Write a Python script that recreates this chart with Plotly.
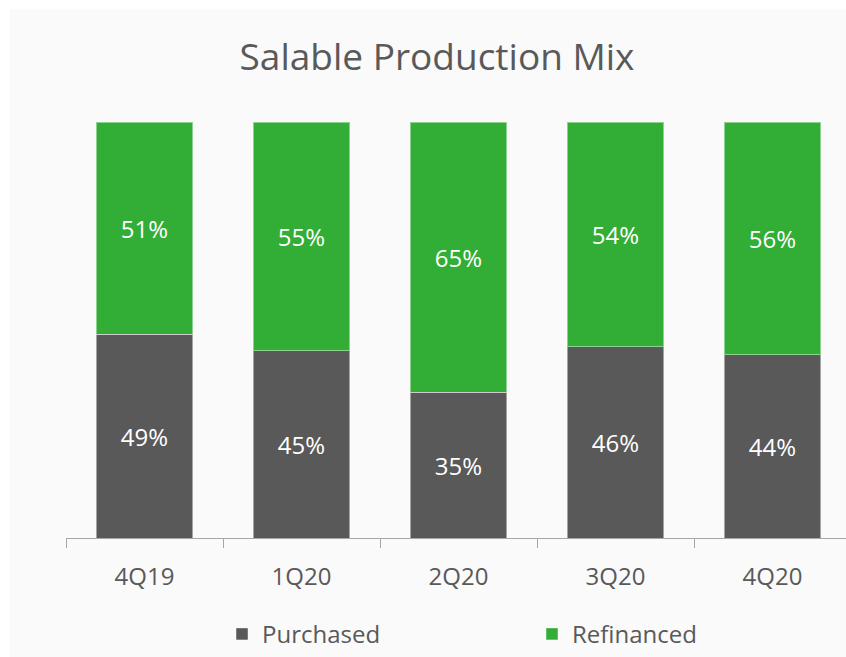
import plotly.graph_objects as go

quarters = ["4Q19", "1Q20", "2Q20", "3Q20", "4Q20"]
purchased = [49, 45, 35, 46, 44]
refinanced = [51, 55, 65, 54, 56]

GRAY = "#595959"
GREEN = "#32AD35"
TXT = "#595959"
FONT = "Open Sans"

W, H = 846, 657
L, T, B = 66, 122, 541
PLOT_W = W - L  # plot area runs to right edge
CAT_W = 157.0

fig = go.Figure()
fig.add_trace(go.Bar(
    x=quarters, y=[v / 100 for v in purchased], name="Purchased",
    marker=dict(color=GRAY, line=dict(color="rgba(255,255,255,0.45)", width=1)),
    text=[f"{v}%" for v in purchased], textposition="inside",
    insidetextanchor="middle", textangle=0,
    textfont=dict(color="white", size=24, family=FONT),
    hoverinfo="skip", legend="legend",
))
fig.add_trace(go.Bar(
    x=quarters, y=[v / 100 for v in refinanced], name="Refinanced",
    marker=dict(color=GREEN, line=dict(color="rgba(255,255,255,0.45)", width=1)),
    text=[f"{v}%" for v in refinanced], textposition="inside",
    insidetextanchor="middle", textangle=0,
    textfont=dict(color="white", size=24, family=FONT),
    hoverinfo="skip", legend="legend2",
))

def px_x(p):
    return (p - L) / PLOT_W

def px_y(p):
    return (B - p) / (B - T)

fig.add_shape(type="rect", xref="paper", yref="paper", layer="below",
              x0=px_x(10), x1=px_x(W + 5), y0=px_y(H + 5), y1=px_y(8),
              fillcolor="#FAFAFA", line=dict(width=0))

leg_common = dict(orientation="h", xref="paper", yref="paper",
                  xanchor="left", yanchor="middle",
                  font=dict(size=24, color=TXT, family=FONT),
                  bgcolor="rgba(0,0,0,0)")

fig.update_layout(
    width=W, height=H,
    margin=dict(l=L, r=0, t=T, b=H - B, pad=0),
    paper_bgcolor="white", plot_bgcolor="rgba(0,0,0,0)",
    barmode="stack", bargap=0.385,
    font=dict(family=FONT, color=TXT),
    uniformtext=dict(mode=False),
    title=dict(text="Salable Production Mix", xref="container", yref="container",
               x=437 / W, xanchor="center", y=1 - 57 / H, yanchor="middle",
               font=dict(size=37, color=TXT, family=FONT)),
    xaxis=dict(type="category", range=[-0.5, -0.5 + PLOT_W / CAT_W],
               showline=True, linecolor="#A6A6A6", linewidth=1,
               ticks="outside", tickson="boundaries", ticklen=9,
               tickcolor="#A6A6A6", tickwidth=1, ticklabelstandoff=17,
               tickfont=dict(size=24, color=TXT, family=FONT),
               showgrid=False, zeroline=False, fixedrange=True),
    yaxis=dict(range=[0, 1], visible=False, showgrid=False, zeroline=False),
    legend=dict(x=px_x(222), y=px_y(638), **leg_common),
    legend2=dict(x=px_x(532), y=px_y(638), **leg_common),
    showlegend=True,
)

fig.write_html("out.html")
